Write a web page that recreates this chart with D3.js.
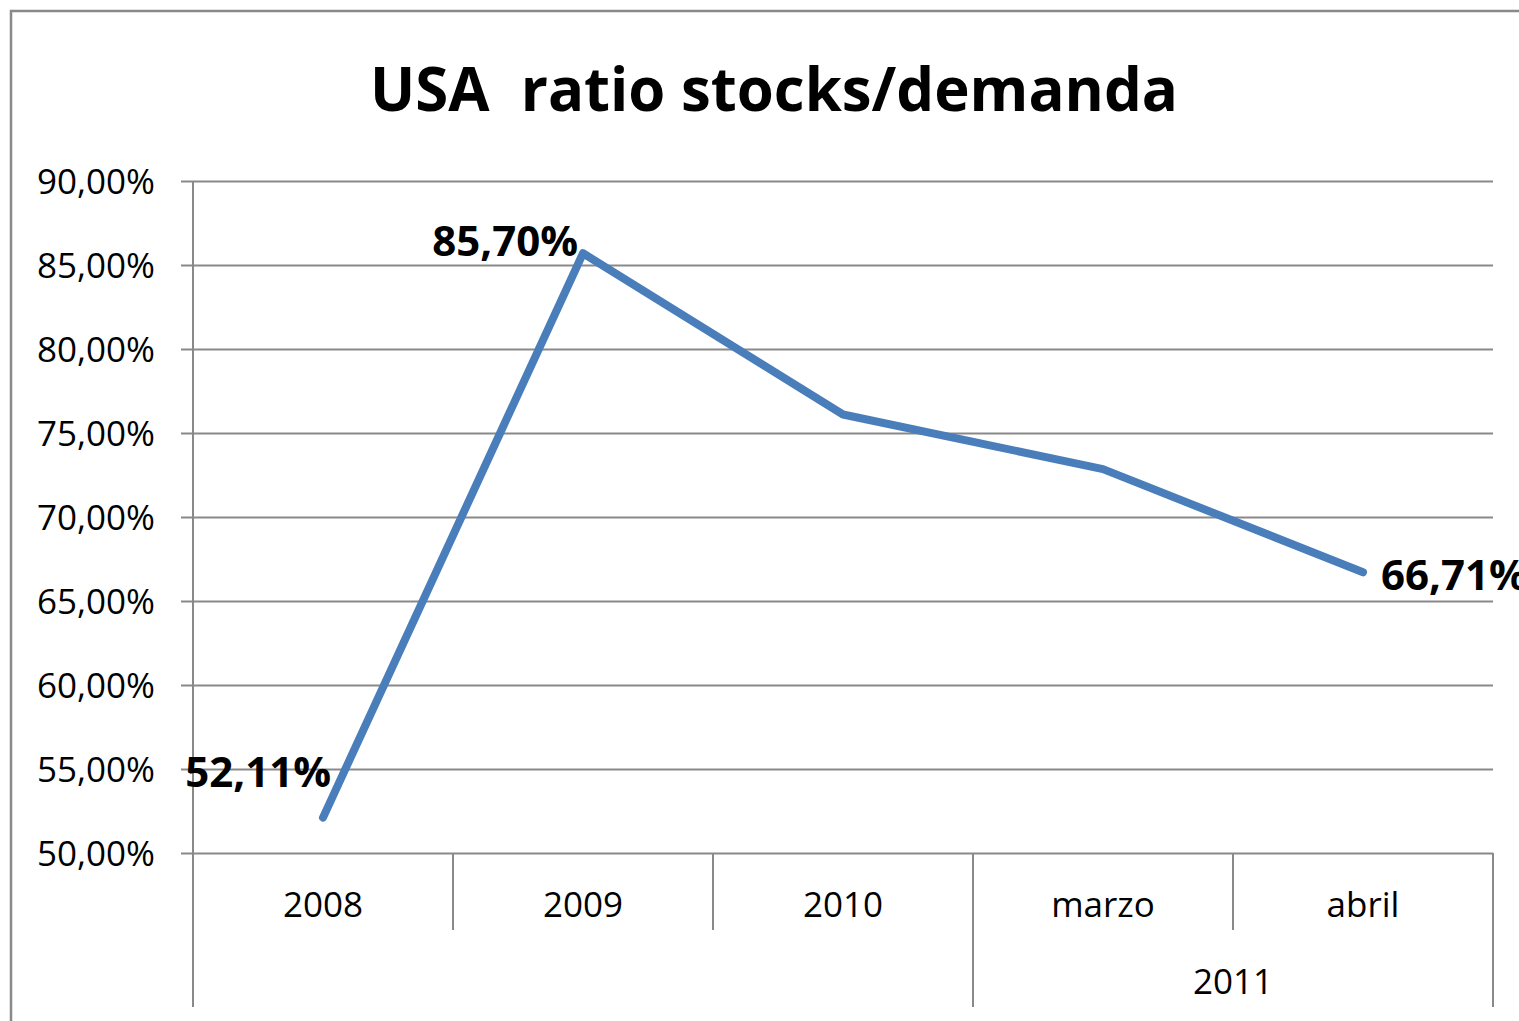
<!DOCTYPE html>
<html><head><meta charset="utf-8">
<script src="https://cdn.jsdelivr.net/npm/d3@7/dist/d3.min.js"></script>
<style>body{margin:0;background:#fff}svg{display:block}text{font-family:"Open Sans",Lato,sans-serif;white-space:pre}</style>
</head><body>
<script>
const categories = ["2008","2009","2010","marzo","abril"];
const groups = [{label:"2011", from:3, to:4}];
const values = [52.11, 85.70, 76.1, 72.85, 66.71];
const labeled = [0, 1, 4];
const yTicks = [50,55,60,65,70,75,80,85,90];
const title = "USA  ratio stocks/demanda";

const W=1519,H=1021;
const svg=d3.select("body").append("svg").attr("width",W).attr("height",H);
const grey="#898989";
svg.append("path").attr("d",`M11,${H}V11H${W}`).attr("fill","none").attr("stroke",grey).attr("stroke-width",2.5);

const L=193,R=1493,T=181,B=853;
const x=d3.scaleBand().domain(categories).range([L,R]);
const y=d3.scaleLinear().domain([50,90]).range([B,T]);
const fmt=v=>d3.format(".2f")(v).replace(".",",")+"%";

svg.append("text").attr("x",774).attr("y",111).attr("text-anchor","middle")
  .attr("font-size",60).attr("font-weight",700).attr("fill","#000")
  .attr("textLength",808).attr("lengthAdjust","spacingAndGlyphs").text(title);

const ya=svg.append("g").attr("transform",`translate(${L},0)`)
  .call(d3.axisLeft(y).tickValues(yTicks).tickSize(-(R-L)).tickPadding(38).tickFormat(fmt));
ya.select(".domain").remove();
ya.selectAll(".tick line").attr("stroke",grey).attr("stroke-width",2).attr("x1",-12);
ya.selectAll(".tick text").attr("font-size",35).attr("fill","#000").attr("dy","0.35em")
  .attr("textLength",118).attr("lengthAdjust","spacingAndGlyphs");

svg.append("line").attr("x1",L).attr("x2",L).attr("y1",T).attr("y2",1007).attr("stroke",grey).attr("stroke-width",2);

categories.forEach((c,k)=>{
  const i=k+1;
  const xx = i<categories.length ? x(categories[i]) : R;
  const isGroupEdge = groups.some(g=>g.from===i || g.to+1===i);
  svg.append("line").attr("x1",xx).attr("x2",xx).attr("y1",B).attr("y2",isGroupEdge?1007:930).attr("stroke",grey).attr("stroke-width",2);
});
svg.append("g").selectAll("text").data(categories).join("text")
  .attr("x",d=>x(d)+x.bandwidth()/2).attr("y",917).attr("text-anchor","middle")
  .attr("font-size",35).attr("fill","#000").text(d=>d);
groups.forEach(g=>{
  const cx=(x(categories[g.from])+x(categories[g.to])+x.bandwidth())/2;
  svg.append("text").attr("x",cx).attr("y",994).attr("text-anchor","middle").attr("font-size",35).attr("fill","#000").text(g.label);
});

const line=d3.line().x((d,i)=>x(categories[i])+x.bandwidth()/2).y(d=>y(d));
svg.append("path").datum(values).attr("d",line).attr("fill","none").attr("stroke","#4A7EBB").attr("stroke-width",8).attr("stroke-linecap","round").attr("stroke-linejoin","round");

labeled.forEach(i=>{
  const px=x(categories[i])+x.bandwidth()/2, py=y(values[i]);
  let tx,ty,anchor;
  if(i===0){tx=px+8;ty=py-45;anchor="end";}
  else if(i===categories.length-1){tx=px+18;ty=py+3;anchor="start";}
  else {tx=px-5;ty=py-12;anchor="end";}
  svg.append("text").attr("x",tx).attr("y",ty).attr("dy","0.35em").attr("text-anchor",anchor)
    .attr("font-size",42).attr("font-weight",700).attr("fill","#000").text(fmt(values[i]));
});
</script>
</body></html>
